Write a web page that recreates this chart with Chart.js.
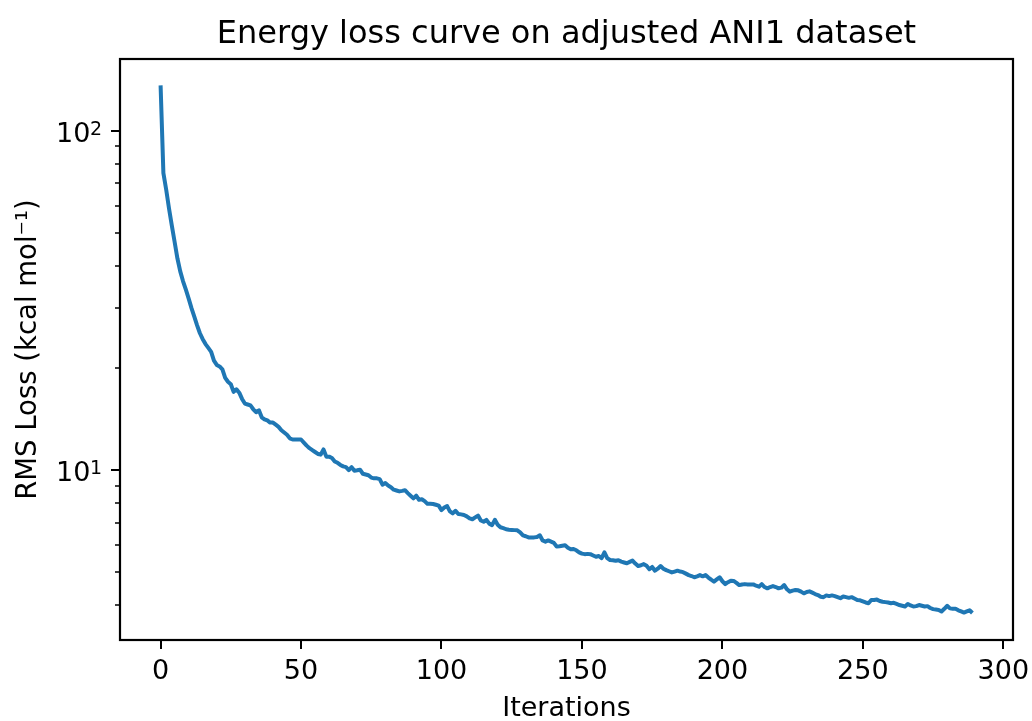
<!DOCTYPE html>
<html><head><meta charset="utf-8">
<script src="https://cdn.jsdelivr.net/npm/chart.js@4.4.0/dist/chart.umd.min.js"></script>
<style>html,body{margin:0;padding:0;background:#fff}</style>
</head><body>
<canvas id="c" width="1032" height="721" style="display:block;width:1032px;height:721px"></canvas>
<script>
// ---- data ----
const lossValues = [
136,75,67,59,52.5,47,42,38.5,36,34,
32,30,28.3,26.7,25.3,24.3,23.5,22.9,22.3,21.0,
20.4,20.2,19.8,18.7,18.2,17.9,17.0,17.3,16.9,16.2,
15.7,15.6,15.5,15.1,14.8,15.0,14.3,14.1,14.0,13.8,
13.8,13.6,13.4,13.1,12.9,12.7,12.4,12.3,12.3,12.3,
12.3,12.05,11.8,11.6,11.45,11.3,11.15,11.1,11.5,10.95,
10.95,10.85,10.6,10.5,10.35,10.25,10.2,10.0,10.2,9.95,
9.98,10.02,9.75,9.7,9.65,9.5,9.45,9.45,9.4,9.05,
9.15,9.0,8.9,8.75,8.7,8.65,8.68,8.72,8.55,8.4,
8.25,8.4,8.17,8.2,8.1,7.95,7.95,7.94,7.9,7.85,
7.62,7.75,7.83,7.55,7.45,7.58,7.42,7.4,7.37,7.3,
7.2,7.16,7.25,7.34,7.1,7.04,7.13,6.95,6.88,7.13,
6.9,6.78,6.74,6.69,6.67,6.66,6.65,6.64,6.55,6.42,
6.38,6.33,6.33,6.33,6.35,6.42,6.2,6.15,6.2,6.15,
6.1,5.95,5.96,5.98,6.0,5.9,5.84,5.85,5.8,5.72,
5.67,5.65,5.66,5.65,5.6,5.55,5.58,5.5,5.72,5.5,
5.43,5.42,5.4,5.42,5.37,5.34,5.31,5.36,5.41,5.3,
5.21,5.24,5.28,5.22,5.1,5.18,5.05,5.12,5.21,5.12,
5.07,5.03,4.99,5.02,5.05,5.02,5.0,4.95,4.9,4.87,
4.83,4.86,4.9,4.86,4.9,4.82,4.75,4.69,4.76,4.83,
4.7,4.61,4.67,4.72,4.71,4.65,4.58,4.6,4.61,4.6,
4.6,4.6,4.56,4.53,4.61,4.52,4.48,4.52,4.55,4.52,
4.48,4.5,4.58,4.45,4.38,4.41,4.43,4.42,4.38,4.33,
4.37,4.39,4.35,4.31,4.28,4.23,4.22,4.27,4.25,4.27,
4.25,4.22,4.19,4.24,4.22,4.2,4.22,4.18,4.14,4.13,
4.1,4.07,4.05,4.14,4.14,4.15,4.11,4.09,4.08,4.07,
4.05,4.06,4.03,4.0,3.98,3.96,4.03,3.99,3.96,3.97,
4.0,3.98,3.96,3.97,3.92,3.89,3.88,3.87,3.83,3.9,
3.98,3.91,3.9,3.9,3.86,3.83,3.8,3.83,3.86,3.79
];
const iterations = lossValues.map((_, i) => i);
const xTickValues = [0, 50, 100, 150, 200, 250, 300];
const yTickValues = [4,5,6,7,8,9,10,20,30,40,50,60,70,80,90,100];
const yMajorValues = [10, 100];
const yMajorLabels = {10: ['10', '1'], 100: ['10', '2']}; // base, exponent
const xRange = [-14.45, 303.45];
const yRange = [3.155, 162.7];
const titleText = 'Energy loss curve on adjusted ANI1 dataset';
const xLabel = 'Iterations';
const yLabel = 'RMS Loss (kcal mol\u207B\u00B9)';

const FONT = 'DejaVu Sans';

const frameTicks = {
  id: 'frameTicks',
  afterDraw(chart) {
    const {ctx, chartArea: a, scales: {x, y}} = chart;
    ctx.save();
    ctx.strokeStyle = '#000';
    ctx.lineCap = 'butt';
    ctx.lineWidth = 2;
    x.ticks.forEach(t => {
      const px = Math.round(x.getPixelForValue(t.value));
      ctx.beginPath(); ctx.moveTo(px, a.bottom); ctx.lineTo(px, a.bottom + 9); ctx.stroke();
    });
    y.ticks.forEach(t => {
      const py = Math.round(y.getPixelForValue(t.value));
      const major = yMajorValues.includes(t.value);
      ctx.lineWidth = major ? 2 : 1.5;
      ctx.beginPath(); ctx.moveTo(a.left, py); ctx.lineTo(a.left - (major ? 9 : 5), py); ctx.stroke();
    });
    ctx.lineWidth = 2.2;
    ctx.strokeRect(Math.round(a.left), Math.round(a.top), Math.round(a.right - a.left), Math.round(a.bottom - a.top));
    // y major tick labels as 10 with superscript exponent
    ctx.fillStyle = '#000';
    ctx.textBaseline = 'alphabetic';
    ctx.textAlign = 'right';
    yMajorValues.forEach(v => {
      const [base, exp] = yMajorLabels[v];
      const py = y.getPixelForValue(v);
      const xRight = a.left - 18;
      ctx.font = '19px "' + FONT + '"';
      const wExp = ctx.measureText(exp).width;
      ctx.fillText(exp, xRight, py + 4);
      ctx.font = '27px "' + FONT + '"';
      ctx.fillText(base, xRight - wExp + 0.5, py + 11);
    });
    ctx.restore();
  }
};

new Chart(document.getElementById('c'), {
  type: 'line',
  data: {
    datasets: [{
      data: iterations.map((it, i) => ({x: it, y: lossValues[i]})),
      borderColor: '#1f77b4',
      borderWidth: 4,
      borderJoinStyle: 'round',
      borderCapStyle: 'butt',
      pointRadius: 0,
      tension: 0,
      fill: false
    }]
  },
  options: {
    responsive: false,
    animation: false,
    devicePixelRatio: 1,
    layout: {padding: {left: 0, right: 19, top: 0, bottom: 0}},
    plugins: {
      legend: {display: false},
      tooltip: {enabled: false},
      title: {
        display: true, text: titleText, color: '#000', fullSize: false,
        font: {family: FONT, size: 32, weight: 'normal', lineHeight: 1.2},
        padding: {top: 15.3, bottom: 5.3}
      }
    },
    scales: {
      x: {
        type: 'linear', min: xRange[0], max: xRange[1], bounds: 'data',
        grid: {display: false},
        border: {display: false},
        afterBuildTicks: s => { s.ticks = xTickValues.map(v => ({value: v})); },
        afterFit: s => { s.height = 81; s.paddingLeft = 0; s.paddingRight = 0; },
        ticks: {color: '#000', font: {family: FONT, size: 27}, padding: 8, maxRotation: 0, autoSkip: false,
                callback: v => String(v)},
        title: {display: true, text: xLabel, color: '#000', font: {family: FONT, size: 27, lineHeight: 1},
                padding: {top: 0, bottom: -1.2}}
      },
      y: {
        type: 'logarithmic', min: yRange[0], max: yRange[1], bounds: 'data',
        grid: {display: false},
        border: {display: false},
        afterBuildTicks: s => { s.ticks = yTickValues.map(v => ({value: v})); },
        afterFit: s => { s.width = 120; s.paddingTop = 0; s.paddingBottom = 0; },
        ticks: {color: '#000', font: {family: FONT, size: 27}, padding: 17, autoSkip: false,
                callback: () => ''},
        title: {display: true, text: yLabel, color: '#000', font: {family: FONT, size: 27.5, lineHeight: 1},
                padding: {top: 15.3, bottom: 0}}
      }
    }
  },
  plugins: [frameTicks]
});
</script>
</body></html>
